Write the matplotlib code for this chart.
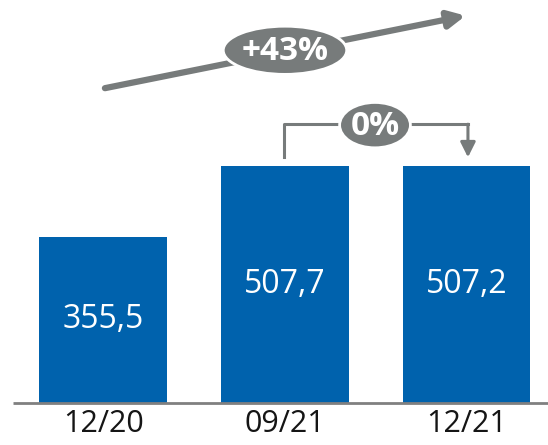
import matplotlib.pyplot as plt
import numpy as np
from matplotlib.patches import Ellipse

categories = ["12/20", "09/21", "12/21"]
values = [355.5, 507.7, 507.2]
value_labels = ["355,5", "507,7", "507,2"]
growth_label = "+43%"
change_label = "0%"

blue = "#0062ad"
gray = "#777b7b"

plt.rcParams['font.family'] = ['Open Sans', 'DejaVu Sans']

fig = plt.figure(figsize=(5.48, 4.45), dpi=100)
ax = fig.add_axes([0, 0, 1, 1])
x = np.arange(len(categories))
ax.bar(x, values, width=0.705, color=blue)
ax.set_xlim(-0.570, 2.449)
ax.set_ylim(-89.8, 861.5)
ax.axis('off')

# value labels in the middle of the bars
for xi, v, lab in zip(x, values, value_labels):
    ax.text(xi, v / 2, lab, color='white', fontsize=23, ha='center', va='center')

# category labels below the baseline
for xi, lab in zip(x, categories):
    ax.text(xi, -45, lab, color='#151515', fontsize=22, ha='center', va='center')

# baseline
ax.plot([-0.499, 2.449], [0, 0], color='#808080', lw=2, solid_capstyle='butt')

# long growth arrow with +43% badge
ax.annotate('', xy=(1.995, 828), xytext=(0.008, 673),
            arrowprops=dict(arrowstyle='-|>,head_length=1.0,head_width=0.5', color=gray, lw=4.5,
                            shrinkA=0, shrinkB=0))
ax.add_patch(Ellipse((1.0, 754), 0.68, 103, facecolor=gray, edgecolor='white', lw=2, zorder=3))
ax.text(1.0, 752, growth_label, color='white', fontsize=24, fontweight='bold',
        ha='center', va='center', zorder=4)

# bracket between bar 2 and bar 3 with 0% badge
y_low = values[1] + 18
y_top = 596
x_left = 0.994
x_right = 2.008
ax.plot([x_left, x_left, x_right], [y_low, y_top, y_top], color=gray, lw=2.2, zorder=2)
ax.annotate('', xy=(x_right, values[2] + 18), xytext=(x_right, y_top),
            arrowprops=dict(arrowstyle='-|>,head_length=0.9,head_width=0.45', color=gray, lw=2.2,
                            shrinkA=0, shrinkB=0))
ax.add_patch(Ellipse((1.496, 594), 0.39, 97, facecolor=gray, edgecolor='white', lw=2, zorder=3))
ax.text(1.496, 592, change_label, color='white', fontsize=24, fontweight='bold',
        ha='center', va='center', zorder=4)

fig.savefig('out.png', dpi=100)
